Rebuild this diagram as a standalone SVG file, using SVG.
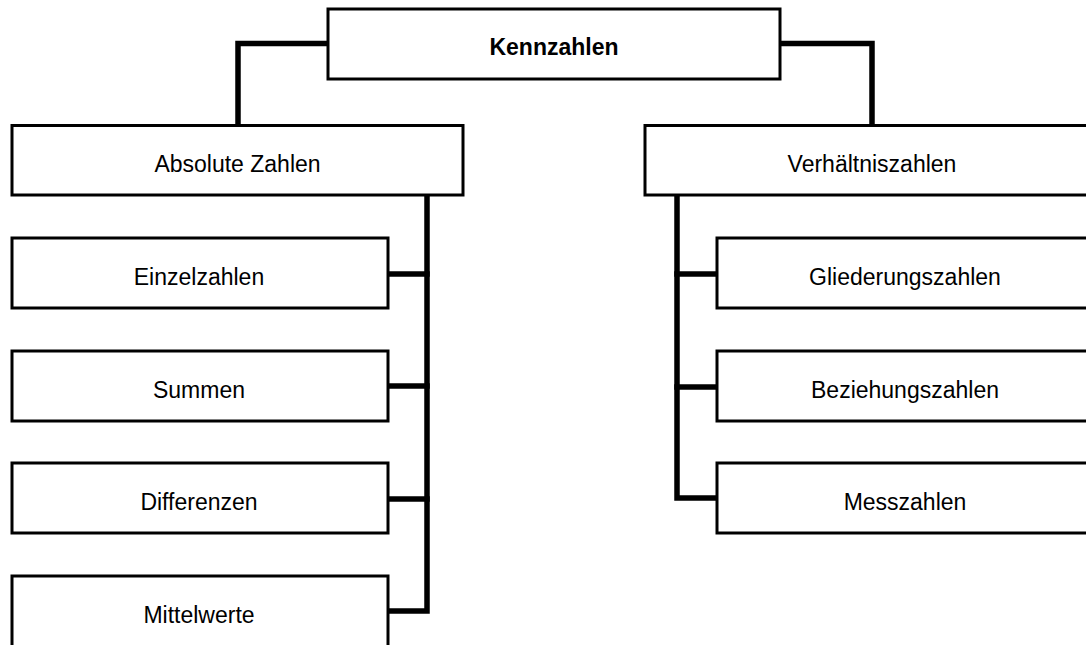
<svg xmlns="http://www.w3.org/2000/svg" width="1086" height="645" viewBox="0 0 1086 645">
<style>
.box{fill:#fff;stroke:#000;stroke-width:3}
.t{font-family:"Liberation Sans",Arial,Helvetica,sans-serif;font-size:23px;text-anchor:middle;fill:#000}
.b{font-weight:bold}
.c{fill:none;stroke:#000;stroke-width:5.5;stroke-linejoin:miter;stroke-linecap:square}
</style>
<rect width="1086" height="645" fill="#fff"/>
<g id="connectors">
<path class="c" d="M328,43.5 H238 V125"/>
<path class="c" d="M780,43.5 H872 V125"/>
<path class="c" d="M427,196 V611 H389"/>
<path class="c" d="M389,274 H427"/>
<path class="c" d="M389,386 H427"/>
<path class="c" d="M389,499 H427"/>
<path class="c" d="M677,196 V498 H716"/>
<path class="c" d="M677,274 H716"/>
<path class="c" d="M677,387 H716"/>
</g>
<g id="kennzahlen"><rect class="box" x="328" y="9" width="452" height="70"/><text class="t b" x="554" y="54.5">Kennzahlen</text></g>
<g id="absolute"><rect class="box" x="12" y="125.5" width="451" height="69.5"/><text class="t" x="237.5" y="172">Absolute Zahlen</text></g>
<g id="verhaeltnis"><rect class="box" x="645" y="125.5" width="455" height="69.5"/><text class="t" x="872" y="172">Verhältniszahlen</text></g>
<g id="einzel"><rect class="box" x="12" y="238" width="376" height="70"/><text class="t" x="199" y="285">Einzelzahlen</text></g>
<g id="summen"><rect class="box" x="12" y="351" width="376" height="70"/><text class="t" x="199" y="398">Summen</text></g>
<g id="differenzen"><rect class="box" x="12" y="463" width="376" height="70"/><text class="t" x="199" y="510">Differenzen</text></g>
<g id="mittelwerte"><rect class="box" x="12" y="576" width="376" height="75"/><text class="t" x="199" y="623">Mittelwerte</text></g>
<g id="gliederung"><rect class="box" x="717" y="238" width="380" height="70"/><text class="t" x="905" y="285">Gliederungszahlen</text></g>
<g id="beziehung"><rect class="box" x="717" y="351" width="380" height="70"/><text class="t" x="905" y="398">Beziehungszahlen</text></g>
<g id="mess"><rect class="box" x="717" y="463" width="380" height="70"/><text class="t" x="905" y="510">Messzahlen</text></g>
</svg>
